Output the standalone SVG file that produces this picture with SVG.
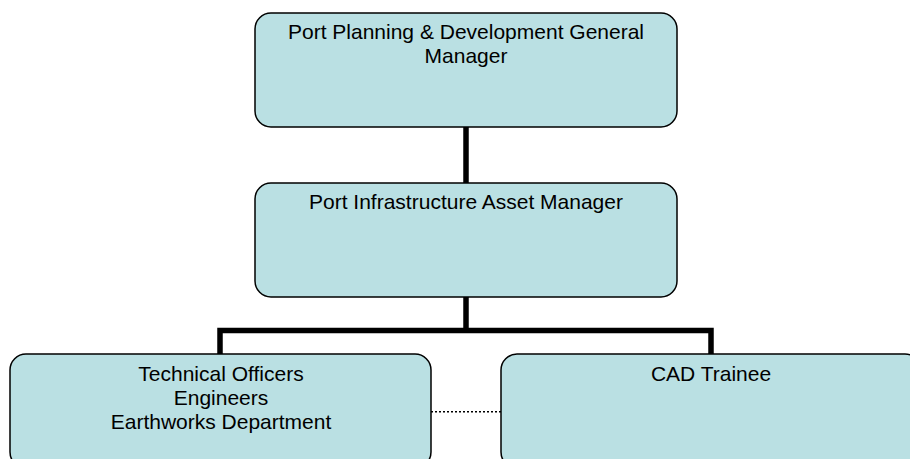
<svg xmlns="http://www.w3.org/2000/svg" width="910" height="459" viewBox="0 0 910 459">
<style>
.box{fill:#BAE0E3;stroke:#000;stroke-width:1.5}
.lbl{font-family:"Liberation Sans",Arial,sans-serif;font-size:21px;fill:#000;text-anchor:middle}
.conn{stroke:#000;stroke-width:5.5;fill:none}
.dot{stroke:#000;stroke-width:1.5;stroke-dasharray:2 2;fill:none}
</style>
<rect x="0" y="0" width="910" height="459" fill="#fff"/>
<g id="connectors">
<line class="conn" x1="466" y1="127" x2="466" y2="183"/>
<line class="conn" x1="466" y1="297" x2="466" y2="330.5"/>
<polyline class="conn" points="220,354 220,330.5 711,330.5 711,354"/>
<line class="dot" x1="431" y1="411.7" x2="501" y2="411.7"/>
</g>
<g id="gm">
<rect class="box" x="255" y="13" width="422" height="114" rx="16" ry="16"/>
<text class="lbl" x="466" y="39">Port Planning &amp; Development General</text>
<text class="lbl" x="466" y="63">Manager</text>
</g>
<g id="pia">
<rect class="box" x="255" y="183" width="422" height="114" rx="16" ry="16"/>
<text class="lbl" x="466" y="209">Port Infrastructure Asset Manager</text>
</g>
<g id="tech">
<rect class="box" x="10" y="354" width="421" height="114" rx="16" ry="16"/>
<text class="lbl" x="221" y="380.5">Technical Officers</text>
<text class="lbl" x="221" y="404.5">Engineers</text>
<text class="lbl" x="221" y="428.5">Earthworks Department</text>
</g>
<g id="cad">
<rect class="box" x="501" y="354" width="420" height="114" rx="16" ry="16"/>
<text class="lbl" x="711" y="380.5">CAD Trainee</text>
</g>
</svg>
